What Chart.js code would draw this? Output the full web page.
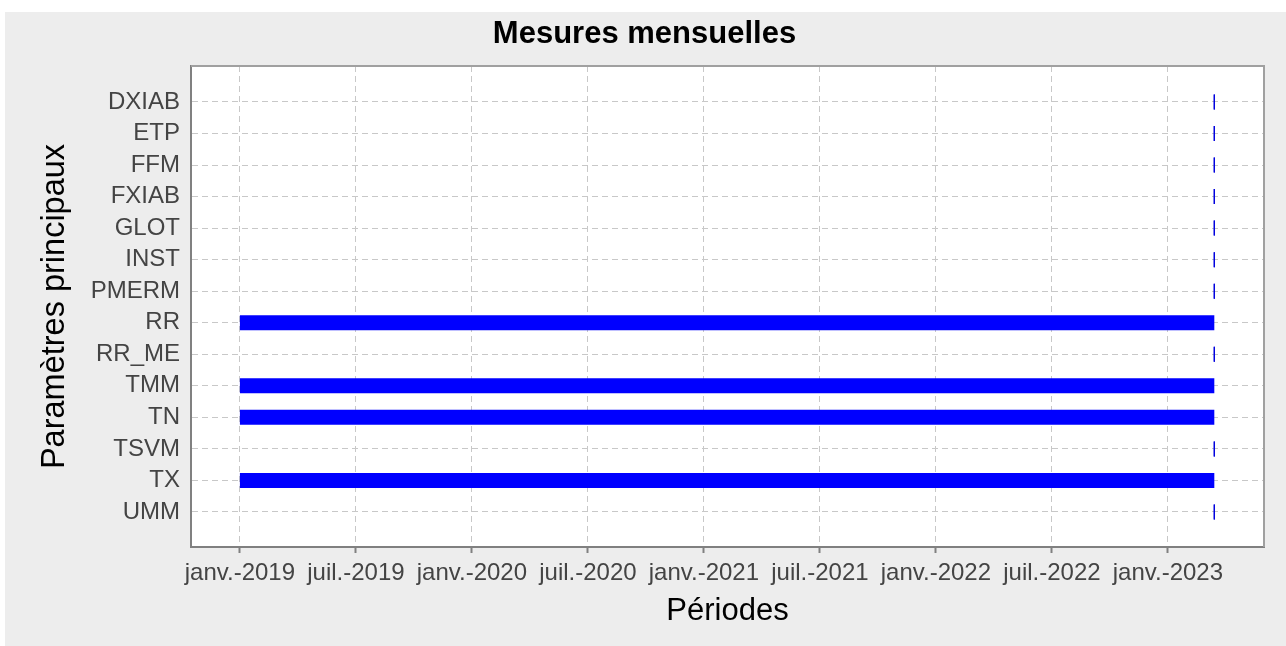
<!DOCTYPE html>
<html>
<head>
<meta charset="utf-8">
<script src="https://cdn.jsdelivr.net/npm/chart.js@4/dist/chart.umd.min.js"></script>
<style>
  html, body { margin: 0; padding: 0; background: #ffffff; }
  #mesures-canvas { display: block; }
</style>
</head>
<body>
<canvas id="mesures-canvas" width="1286" height="646"></canvas>
<script>
// Paramètres (axe vertical, de haut en bas)
const parametres = ['DXIAB', 'ETP', 'FFM', 'FXIAB', 'GLOT', 'INST', 'PMERM',
  'RR', 'RR_ME', 'TMM', 'TN', 'TSVM', 'TX', 'UMM'];

// Début / fin de chaque période, en mois depuis janv.-2019
const debuts = [50.4, 50.4, 50.4, 50.4, 50.4, 50.4, 50.4,
  0, 50.4, 0, 0, 50.4, 0, 50.4];
const fins = [50.4, 50.4, 50.4, 50.4, 50.4, 50.4, 50.4,
  50.4, 50.4, 50.4, 50.4, 50.4, 50.4, 50.4];

// Graduations de l'axe des périodes
const valeursX = [0, 6, 12, 18, 24, 30, 36, 42, 48];
const etiquettesX = ['janv.-2019', 'juil.-2019', 'janv.-2020', 'juil.-2020',
  'janv.-2021', 'juil.-2021', 'janv.-2022', 'juil.-2022', 'janv.-2023'];

const POLICE = '"Liberation Sans", Arial, Helvetica, sans-serif';
const BLEU = '#0000ff';

// fond gris + cadre haut/droite
const cadrePlugin = {
  id: 'cadre',
  beforeDraw(chart) {
    const ctx = chart.ctx;
    ctx.save();
    ctx.fillStyle = '#ffffff';
    ctx.fillRect(0, 0, chart.width, chart.height);
    ctx.fillStyle = '#ededed';
    ctx.fillRect(5, 12, chart.width - 5, chart.height - 12);
    const a = chart.chartArea;
    ctx.fillStyle = '#ffffff';
    ctx.fillRect(a.left, a.top, a.right - a.left, a.bottom - a.top);
    ctx.restore();
  },
  afterDraw(chart) {
    const ctx = chart.ctx;
    const a = chart.chartArea;
    ctx.save();
    ctx.strokeStyle = '#a0a0a0';
    ctx.lineWidth = 2;
    ctx.beginPath();
    ctx.moveTo(a.left, a.top);
    ctx.lineTo(a.right, a.top);
    ctx.lineTo(a.right, a.bottom);
    ctx.stroke();
    ctx.restore();
  }
};

var datasets = parametres.map((nom, i) => ({
  label: nom,
  data: [{ x: debuts[i], y: i }, { x: fins[i], y: i }],
  showLine: true,
  borderColor: BLEU,
  borderWidth: 15,
  borderCapStyle: 'butt',
  // période vide : simple trait vertical
  pointStyle: 'line',
  rotation: 90,
  pointRadius: debuts[i] === fins[i] ? 7.5 : 0,
  pointBorderWidth: 1.2,
  pointBorderColor: '#0000dd',
  pointBackgroundColor: BLEU
}));

new Chart(document.getElementById('mesures-canvas'), {
  type: 'scatter',
  data: { datasets: datasets },
  plugins: [cadrePlugin],
  options: {
    responsive: false,
    animation: false,
    events: [],
    layout: { padding: { left: 3, right: 0, top: 0, bottom: 0 } },
    scales: {
      x: {
        type: 'linear',
        min: -2.53,
        max: 52.97,
        afterBuildTicks: function(axis) {
          axis.ticks = valeursX.map(v => ({ value: v }));
        },
        afterFit: function(axis) { axis.height = 99; },
        ticks: {
          color: '#444444',
          padding: 6,
          maxRotation: 0,
          autoSkip: false,
          font: { family: POLICE, size: 24 },
          callback: function(val) {
            return etiquettesX[valeursX.indexOf(val)];
          }
        },
        grid: {
          color: '#c8c8c8',
          lineWidth: 1,
          drawTicks: true,
          tickLength: 6,
          tickColor: '#808080',
          tickWidth: 2,
          tickBorderDash: []
        },
        border: { display: true, color: '#808080', width: 2, dash: [6, 4] },
        title: {
          display: true,
          text: 'Périodes',
          color: '#000000',
          padding: { top: 0, bottom: 16.4 },
          font: { family: POLICE, size: 31 }
        }
      },
      y: {
        type: 'linear',
        reverse: true,
        min: -1.14,
        max: 14.11,
        afterBuildTicks: function(axis) {
          axis.ticks = parametres.map((p, i) => ({ value: i }));
        },
        afterFit: function(axis) { axis.width = 188; },
        ticks: {
          color: '#444444',
          padding: 11,
          autoSkip: false,
          font: { family: POLICE, size: 24 },
          callback: function(val) {
            return parametres[val];
          }
        },
        grid: {
          color: '#c8c8c8',
          lineWidth: 1,
          drawTicks: false
        },
        border: { display: true, color: '#808080', width: 2, dash: [6, 4] },
        title: {
          display: true,
          text: 'Paramètres principaux',
          color: '#000000',
          padding: { top: 32.5, bottom: 0 },
          font: { family: POLICE, size: 32.5 }
        }
      },
      // marge droite réservée
      marge: {
        type: 'linear',
        position: 'right',
        display: true,
        afterFit: function(axis) { axis.width = 22; },
        ticks: { display: false },
        grid: { display: false },
        border: { display: false }
      }
    },
    plugins: {
      legend: { display: false },
      tooltip: { enabled: false },
      title: {
        display: true,
        text: 'Mesures mensuelles',
        color: '#000000',
        padding: { top: 16, bottom: 12.8 },
        font: { family: POLICE, size: 31, weight: 'bold' }
      }
    }
  }
});
</script>
</body>
</html>
